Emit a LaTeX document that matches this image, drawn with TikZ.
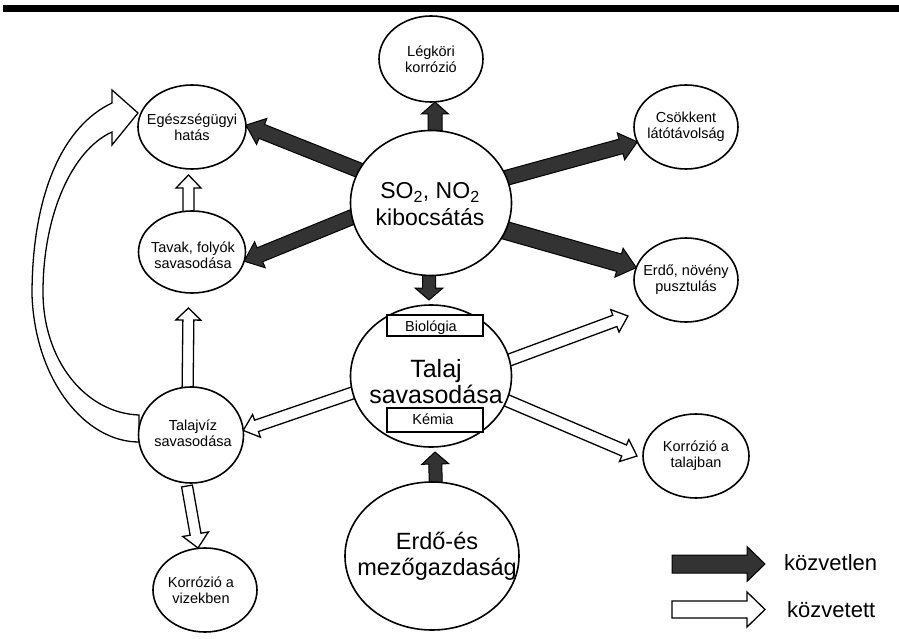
\documentclass[tikz,border=0pt]{standalone}
\usepackage{fontspec}
\setmainfont{Liberation Sans}
\usetikzlibrary{calc,shapes.geometric}
\newcommand\blockarr[6]{%
  \path let \p1=($(#3)-(#2)$), \n1={atan2(\y1,\x1)}, \n2={veclen(\x1,\y1)} in \pgfextra{\xdef\baang{\n1}\xdef\balen{\n2}};
  \filldraw[#1, shift={(#2)}, rotate=\baang] (0,-#4) -- ({\balen-#6},-#4) -- ({\balen-#6},-#5) -- (\balen,0) -- ({\balen-#6},#5) -- ({\balen-#6},#4) -- (0,#4) -- cycle;
}
\tikzset{
  bub/.style={ellipse, inner sep=0pt, outer sep=0pt},
  bubline/.style={draw=black, line width=1.6pt, fill=white},
  txt/.style={align=center, font=\fontsize{14.5}{16}\selectfont, inner sep=0pt},
  bigtxt/.style={align=center, font=\fontsize{23}{26.5}\selectfont, inner sep=0pt},
  dirarrow/.style={fill=black!80, draw=black, line width=1pt},
  indarrow/.style={fill=white, draw=black, line width=1.3pt},
  labbox/.style={draw, line width=1.4pt, fill=white, minimum width=96pt, inner sep=0pt},
  legtxt/.style={anchor=west, font=\fontsize{22}{26}\selectfont, inner sep=0pt},
}
\begin{document}
\begin{tikzpicture}[x=1pt,y=-1pt]
\useasboundingbox (0,0) rectangle (899,639);

% node geometry
\node[bub, minimum width=104pt, minimum height=86pt] (leg) at (431,59) {};
\node[bub, minimum width=108pt, minimum height=84pt] (egh) at (192,127) {};
\node[bub, minimum width=104pt, minimum height=84pt] (csk) at (686,127) {};
\node[bub, minimum width=161pt, minimum height=145pt] (so) at (431,203) {};
\node[bub, minimum width=107pt, minimum height=82pt] (tav) at (192,252) {};
\node[bub, minimum width=104pt, minimum height=84pt] (erd) at (686,280) {};
\node[bub, minimum width=161pt, minimum height=142pt] (tal) at (431,376) {};
\node[bub, minimum width=105pt, minimum height=96pt] (tvz) at (191,435) {};
\node[bub, minimum width=106pt, minimum height=84pt] (krt) at (696,456) {};
\node[bub, minimum width=104pt, minimum height=84pt] (krv) at (205,590) {};
\node[bub, minimum width=174pt, minimum height=148pt] (erm) at (432,556) {};

% curved indirect arrow Talajviz -> Egeszsegugyi
\filldraw[indarrow] (139,442) .. controls (85,442) and (35,380) .. (32,295)
  .. controls (32,190) and (65,125) .. (112,103) -- (112,90) -- (138,113) -- (112,145) -- (112,132)
  .. controls (72,150) and (43,215) .. (43,292)
  .. controls (43,360) and (85,413) .. (139,415) -- cycle;

% connector end points
\coordinate (a1s) at ($(so.north)+(4,12)$);
\coordinate (a1t) at ($(leg.south)+(4,0)$);
\coordinate (a2s) at ($(so)!0.85!(so.155)$);
\coordinate (a2t) at (egh.2);
\coordinate (a3s) at ($(so)!0.85!(so.188)$);
\coordinate (a3t) at (tav.350);
\coordinate (a4s) at ($(so)!0.85!(so.19)$);
\coordinate (a4t) at (csk.197);
\coordinate (a5s) at ($(so)!0.85!(so.339)$);
\coordinate (a5t) at (erd.166);
\coordinate (a6s) at ($(so.south)+(-2,-12)$);
\coordinate (a6t) at ($(tal.north)+(-2,-5)$);
\coordinate (a7s) at ($(erm.north)+(4,12)$);
\coordinate (a7t) at ($(tal.south)+(4,5)$);
\coordinate (b1s) at ($(tal)!0.85!(tal.10)$);
\coordinate (c1) at (628,316);
\coordinate (b2s) at ($(tal)!0.85!(tal.343)$);
\coordinate (b2t) at ($(krt.180)+(-6,0)$);
\coordinate (b3s) at ($(tal)!0.85!(tal.191)$);
\coordinate (b3t) at (tvz.5);
\coordinate (b4s) at ($(tvz.north)+(-3.5,12)$);
\coordinate (b4t) at ($(tav.south)+(-3.5,15)$);
\coordinate (b5s) at ($(tav.north)+(-3.5,12)$);
\coordinate (b5t) at ($(egh.south)+(-3.5,6)$);
\coordinate (b6s) at ($(tvz.south)+(-4,3)$);
\coordinate (b6t) at ($(krv.north)+(-7,0)$);

% direct arrows
\blockarr{dirarrow}{a1s}{a1t}{7}{13.5}{12}
\blockarr{dirarrow}{a2s}{a2t}{7.5}{14}{17}
\blockarr{dirarrow}{a3s}{a3t}{7.5}{14}{17}
\blockarr{dirarrow}{a4s}{a4t}{7.5}{14}{17}
\blockarr{dirarrow}{a5s}{a5t}{9}{15}{18}
\blockarr{dirarrow}{a6s}{a6t}{6.5}{14}{12}
\blockarr{dirarrow}{a7s}{a7t}{6.5}{13.5}{12}

% indirect arrows
\blockarr{indarrow}{b1s}{c1}{6}{12}{14}
\blockarr{indarrow}{b2s}{b2t}{6}{12}{14}
\blockarr{indarrow}{b3s}{b3t}{6}{12}{14}
\blockarr{indarrow}{b4s}{b4t}{5.5}{12.5}{12}
\blockarr{indarrow}{b5s}{b5t}{5.5}{12.5}{13}
\blockarr{indarrow}{b6s}{b6t}{5.5}{13}{14}

% ellipses drawn on top
\draw[bubline] (leg.center) ellipse[x radius=52, y radius=43];
\draw[bubline] (egh.center) ellipse[x radius=54, y radius=42];
\draw[bubline] (csk.center) ellipse[x radius=52, y radius=42];
\draw[bubline] (so.center) ellipse[x radius=80.5, y radius=72.5];
\draw[bubline] (tav.center) ellipse[x radius=53.5, y radius=41];
\draw[bubline] (erd.center) ellipse[x radius=52, y radius=42];
\draw[bubline] (tal.center) ellipse[x radius=80.5, y radius=71];
\draw[bubline] (tvz.center) ellipse[x radius=52.5, y radius=48];
\draw[bubline] (krt.center) ellipse[x radius=53, y radius=42];
\draw[bubline] (krv.center) ellipse[x radius=52, y radius=42];
\draw[bubline] (erm.center) ellipse[x radius=87, y radius=74];

% labels inside Talaj
\node[labbox, minimum height=21pt] (biobox) at (435,325.5) {};
\node[txt] (biotxt) at (431,328) {Biológia};
\node[labbox, minimum height=24pt] (kembox) at (435,420) {};
\node[txt] (kemtxt) at (433,419) {Kémia};

% texts
\node[txt] (legt) at (leg) {Légköri\\korrózió};
\node[txt] (eght) at (egh) {Egészségügyi\\hatás};
\node[txt] (cskt) at (csk) {Csökkent\\látótávolság};
\node[bigtxt] (sot) at ($(so)+(-1,1)$) {SO\textsubscript{2}, NO\textsubscript{2}\\kibocsátás};
\node[txt] (tavt) at ($(tav)+(1,3)$) {Tavak, folyók\\savasodása};
\node[txt] (erdt) at (erd) {Erdő, növény\\pusztulás};
\node[bigtxt, font=\fontsize{25}{26}\selectfont] (talt) at (436,382) {Talaj\\savasodása};
\node[txt] (tvzt) at ($(tvz)+(2,-2)$) {Talajvíz\\savasodása};
\node[txt] (krtt) at (krt) {Korrózió a\\talajban};
\node[txt] (krvt) at ($(krv)+(-4,0)$) {Korrózió a\\vizekben};
\node[bigtxt, font=\fontsize{23.5}{26}\selectfont] (ermt) at ($(erm)+(5,0)$) {Erdő-és\\mezőgazdaság};

% top rule
\coordinate (rl) at (3,8.5);
\coordinate (rr) at (899,8.5);
\draw[line width=7pt] (rl) -- (rr);

% legend
\coordinate (l1s) at (672,564);
\coordinate (l1t) at (765,564);
\coordinate (l2s) at (672,609.5);
\coordinate (l2t) at (765,609.5);
\blockarr{dirarrow}{l1s}{l1t}{9}{17.5}{18}
\blockarr{indarrow}{l2s}{l2t}{8.5}{17.5}{18}
\node[legtxt] (lt1) at (784,563) {közvetlen};
\node[legtxt] (lt2) at (787,610) {közvetett};
\end{tikzpicture}
\end{document}
